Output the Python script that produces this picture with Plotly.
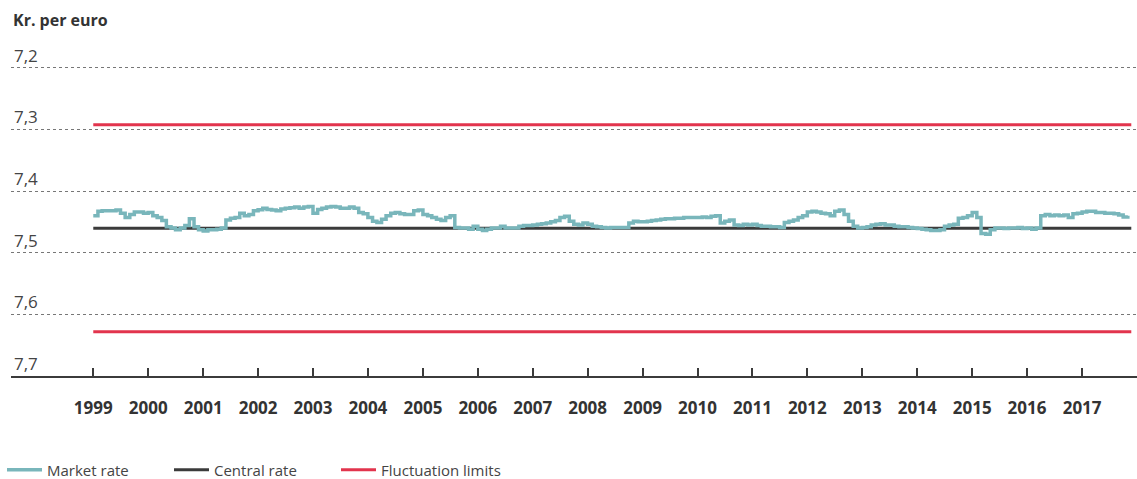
import pandas as pd
import plotly.graph_objects as go

# ---- data ----
market_1999 = [7.440, 7.433, 7.432, 7.432, 7.432, 7.431, 7.436, 7.443, 7.438, 7.434, 7.434, 7.436]
market_2000 = [7.435, 7.440, 7.443, 7.448, 7.458, 7.460, 7.463, 7.460, 7.456, 7.445, 7.458, 7.463]
market_2001 = [7.465, 7.463, 7.463, 7.462, 7.460, 7.447, 7.444, 7.443, 7.436, 7.440, 7.438, 7.432]
market_2002 = [7.4305, 7.428, 7.430, 7.431, 7.432, 7.429, 7.428, 7.427, 7.426, 7.428, 7.426, 7.425]
market_2003 = [7.436, 7.430, 7.428, 7.426, 7.425, 7.426, 7.428, 7.428, 7.426, 7.428, 7.435, 7.437]
market_2004 = [7.443, 7.449, 7.451, 7.446, 7.440, 7.436, 7.435, 7.437, 7.438, 7.438, 7.432, 7.431]
market_2005 = [7.438, 7.440, 7.443, 7.446, 7.448, 7.443, 7.440, 7.459, 7.460, 7.460, 7.462, 7.457]
market_2006 = [7.462, 7.464, 7.462, 7.460, 7.460, 7.457, 7.460, 7.460, 7.460, 7.457, 7.456, 7.456]
market_2007 = [7.455, 7.454, 7.453, 7.452, 7.450, 7.448, 7.443, 7.441, 7.449, 7.454, 7.455, 7.452]
market_2008 = [7.454, 7.457, 7.458, 7.459, 7.460, 7.459, 7.459, 7.459, 7.459, 7.452, 7.449, 7.450]
market_2009 = [7.450, 7.449, 7.448, 7.447, 7.446, 7.445, 7.445, 7.444, 7.444, 7.443, 7.443, 7.443]
market_2010 = [7.443, 7.442, 7.443, 7.441, 7.440, 7.452, 7.449, 7.447, 7.455, 7.456, 7.454, 7.455]
market_2011 = [7.454, 7.456, 7.457, 7.457, 7.458, 7.458, 7.459, 7.451, 7.449, 7.447, 7.443, 7.440]
market_2012 = [7.434, 7.433, 7.434, 7.436, 7.437, 7.440, 7.433, 7.431, 7.438, 7.449, 7.457, 7.460]
market_2013 = [7.459, 7.458, 7.455, 7.454, 7.453, 7.455, 7.455, 7.457, 7.458, 7.458, 7.459, 7.460]
market_2014 = [7.461, 7.462, 7.463, 7.464, 7.464, 7.463, 7.457, 7.455, 7.454, 7.444, 7.443, 7.440]
market_2015 = [7.435, 7.443, 7.469, 7.470, 7.463, 7.460, 7.460, 7.461, 7.460, 7.460, 7.459, 7.461]
market_2016 = [7.460, 7.462, 7.460, 7.440, 7.438, 7.440, 7.439, 7.440, 7.439, 7.443, 7.437, 7.436]
market_2017 = [7.434, 7.433, 7.433, 7.435, 7.435, 7.436, 7.436, 7.437, 7.439, 7.442, 7.440]

market_values = (market_1999 + market_2000 + market_2001 + market_2002 + market_2003
                 + market_2004 + market_2005 + market_2006 + market_2007 + market_2008
                 + market_2009 + market_2010 + market_2011 + market_2012 + market_2013
                 + market_2014 + market_2015 + market_2016 + market_2017)
market_dates = pd.date_range(start="1999-01-01", periods=len(market_values), freq="MS")

central_rate = 7.46038
upper_limit = 7.29252
lower_limit = 7.62824
line_start = "1999-01-01"
line_end = "2017-11-24"

year_ticks = [f"{y}-01-01" for y in range(1999, 2018)]
year_labels = [str(y) for y in range(1999, 2018)]
y_ticks = [7.2, 7.3, 7.4, 7.5, 7.6, 7.7]

TEAL = "#79b6bb"
DARK = "#3b3b3b"
RED = "#e2344d"
FONT = "Open Sans"

fig = go.Figure()
fig.add_trace(go.Scatter(
    x=[line_start, line_end], y=[central_rate, central_rate], mode="lines",
    name="Central rate", line=dict(color=DARK, width=3), legendrank=2,
))
fig.add_trace(go.Scatter(
    x=[line_start, line_end, None, line_start, line_end],
    y=[upper_limit, upper_limit, None, lower_limit, lower_limit],
    mode="lines", name="Fluctuation limits", line=dict(color=RED, width=3),
    legendrank=3,
))
fig.add_trace(go.Scatter(
    x=market_dates, y=market_values, mode="lines", name="Market rate",
    line=dict(color=TEAL, width=3.5, shape="hv"), legendrank=1,
))

fig.update_layout(
    width=1137, height=479,
    margin=dict(l=11, r=0, t=43, b=103, autoexpand=False),
    paper_bgcolor="white", plot_bgcolor="white",
    separators=", ",
    font=dict(family=FONT, color="#444444"),
    showlegend=True,
    legend=dict(
        orientation="h", xref="paper", yref="paper",
        x=-9 / 1126, y=-94 / 333, xanchor="left", yanchor="middle",
        font=dict(size=15, color="#444444", family=FONT),
        entrywidth=117, entrywidthmode="pixels",
        itemwidth=35,
    ),
    annotations=[dict(
        text="<b>Kr. per euro</b>", xref="paper", yref="paper",
        x=0, y=1, xanchor="left", yanchor="middle", yshift=23,
        showarrow=False, font=dict(size=16, color="#333333", family=FONT),
    )],
)

fig.update_xaxes(
    type="date", range=["1997-07-03", "2018-01-01"],
    tickvals=year_ticks, ticktext=year_labels,
    ticks="inside", ticklen=8, tickwidth=2, tickcolor=DARK,
    showline=True, linecolor=DARK, linewidth=2,
    showgrid=False, zeroline=False, automargin=False,
    tickfont=dict(size=17, color="#333333", family=FONT, weight="bold"),
    ticklabelstandoff=16,
)
fig.update_yaxes(
    range=[7.7, 7.16], tickvals=y_ticks, tickformat=".1f",
    showgrid=True, gridcolor="#777777", griddash="dot", gridwidth=1,
    zeroline=False, showline=False, ticks="", automargin=False,
    ticklabelposition="inside top",
    tickfont=dict(size=17, color="#444444", family=FONT),
)

fig.write_html("out.html", config={"displayModeBar": False},
               post_script="document.body.style.margin='0px';")
